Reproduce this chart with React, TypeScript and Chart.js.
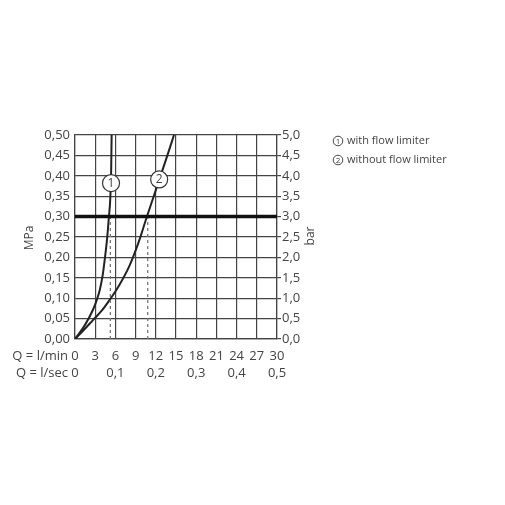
import React, { useEffect, useRef } from "react";
import { Chart, registerables } from "chart.js";
Chart.register(...registerables);

// Tick values / labels
const lpmTicks = [0, 3, 6, 9, 12, 15, 18, 21, 24, 27, 30];
const lpsTickPos = [0, 6, 12, 18, 24, 30];
const lpsLabels = ["0", "0,1", "0,2", "0,3", "0,4", "0,5"];
const mpaTicks = [0, 0.05, 0.1, 0.15, 0.2, 0.25, 0.3, 0.35, 0.4, 0.45, 0.5];
const mpaLabels = ["0,00", "0,05", "0,10", "0,15", "0,20", "0,25", "0,30", "0,35", "0,40", "0,45", "0,50"];
const barTicks = [0, 0.5, 1, 1.5, 2, 2.5, 3, 3.5, 4, 4.5, 5];
const barLabels = ["0,0", "0,5", "1,0", "1,5", "2,0", "2,5", "3,0", "3,5", "4,0", "4,5", "5,0"];

// Series: flow (l/min) vs pressure (MPa)
const withLimiterQ = [0, 1.47, 2.65, 3.24, 3.68, 4.12, 4.41, 4.75, 5.0, 5.25, 5.37, 5.44];
const withLimiterP = [0, 0.034, 0.071, 0.096, 0.12, 0.157, 0.194, 0.243, 0.292, 0.348, 0.414, 0.5];
const withoutLimiterQ = [0, 1.3, 2.7, 4.0, 5.2, 6.5, 8.1, 9.4, 10.6, 12.0, 13.5, 14.7];
const withoutLimiterP = [0, 0.022, 0.047, 0.07, 0.097, 0.13, 0.18, 0.235, 0.296, 0.365, 0.439, 0.5];

const refPressure = 0.3;
const dashQ = [5.25, 10.8];
const markerQ = [5.35, 12.5];
const markerP = [0.382, 0.391];
const markerText = ["1", "2"];
const legendNums = ["1", "2"];
const legendItems = ["with flow limiter", "without flow limiter"];
const yTitleLeft = "MPa";
const yTitleRight = "bar";
const xRowLabels = ["Q = l/min", "Q = l/sec"];

const FONT = "'Open Sans', 'DejaVu Sans', sans-serif";
const TEXT = "#444";
const LINE = "#222";
const GRID = "#444";

const extras = {
  id: "extras",
  afterDatasetsDraw(chart: any) {
    const ctx = chart.ctx;
    const xs = chart.scales.x;
    const ys = chart.scales.y;
    ctx.save();
    for (let i = 0; i < markerQ.length; i++) {
      const px = xs.getPixelForValue(markerQ[i]);
      const py = ys.getPixelForValue(markerP[i]);
      ctx.beginPath();
      ctx.arc(px, py, 8.5, 0, Math.PI * 2);
      ctx.fillStyle = "#fff";
      ctx.fill();
      ctx.lineWidth = 1.2;
      ctx.strokeStyle = "#333";
      ctx.stroke();
      ctx.fillStyle = TEXT;
      ctx.font = `12px ${FONT}`;
      ctx.textAlign = "center";
      ctx.textBaseline = "middle";
      ctx.fillText(markerText[i], px, py + 0.5);
    }
    ctx.restore();
  },
  afterDraw(chart: any) {
    const ctx = chart.ctx;
    const ca = chart.chartArea;
    const xs = chart.scales.x;
    ctx.save();
    ctx.fillStyle = TEXT;
    ctx.font = `12px ${FONT}`;
    ctx.textBaseline = "middle";
    const midY = (ca.top + ca.bottom) / 2;
    ctx.save();
    ctx.translate(ca.left - 45, midY + 1);
    ctx.rotate(-Math.PI / 2);
    ctx.textAlign = "center";
    ctx.fillText(yTitleLeft, 0, 0);
    ctx.restore();
    ctx.save();
    ctx.translate(ca.right + 34, midY - 1);
    ctx.rotate(-Math.PI / 2);
    ctx.textAlign = "center";
    ctx.fillText(yTitleRight, 0, 0);
    ctx.restore();
    ctx.font = `13px ${FONT}`;
    ctx.textAlign = "right";
    const x0 = xs.getPixelForValue(0) - 7;
    ctx.fillText(xRowLabels[0], x0, ca.bottom + 17);
    ctx.fillText(xRowLabels[1], x0, ca.bottom + 34);
    const lx = ca.right + 61;
    for (let i = 0; i < legendItems.length; i++) {
      const ly = ca.top + 6 + i * 19;
      ctx.beginPath();
      ctx.arc(lx, ly, 4.8, 0, Math.PI * 2);
      ctx.lineWidth = 1;
      ctx.strokeStyle = TEXT;
      ctx.stroke();
      ctx.font = `8px ${FONT}`;
      ctx.textAlign = "center";
      ctx.fillText(legendNums[i], lx, ly + 0.5);
      ctx.font = `11px ${FONT}`;
      ctx.textAlign = "left";
      ctx.fillText(legendItems[i], lx + 9, ly);
    }
    ctx.restore();
  },
};

export default function App() {
  const ref = useRef<HTMLCanvasElement>(null);
  useEffect(() => {
    if (!ref.current) return;
    const mk = (q: number[], p: number[]) => q.map((v, i) => ({ x: v, y: p[i] }));
    const chart = new Chart(ref.current, {
      type: "line",
      data: {
        datasets: [
          {
            data: [{ x: 0, y: refPressure }, { x: 30, y: refPressure }],
            borderColor: "#111",
            borderWidth: 3.5,
            pointRadius: 0,
          },
          ...dashQ.map((q) => ({
            data: [{ x: q, y: 0 }, { x: q, y: refPressure }],
            borderColor: "#777",
            borderWidth: 1.3,
            borderDash: [3, 3],
            pointRadius: 0,
          })),
          {
            data: mk(withLimiterQ, withLimiterP),
            borderColor: LINE,
            borderWidth: 2,
            pointRadius: 0,
            cubicInterpolationMode: "monotone",
          },
          {
            data: mk(withoutLimiterQ, withoutLimiterP),
            borderColor: LINE,
            borderWidth: 2,
            pointRadius: 0,
            cubicInterpolationMode: "monotone",
          },
        ] as any,
      },
      options: {
        animation: false,
        responsive: false,
        layout: { padding: { left: 0, right: 0, top: 135, bottom: 120 } },
        plugins: { legend: { display: false }, tooltip: { enabled: false } },
        font: { family: FONT },
        scales: {
          x: {
            type: "linear",
            position: "bottom",
            min: 0,
            max: 30,
            afterBuildTicks: (s: any) => {
              s.ticks = lpmTicks.map((v) => ({ value: v }));
            },
            afterFit: (s: any) => {
              s.height = 26;
            },
            ticks: {
              color: TEXT,
              font: { family: FONT, size: 13 },
              padding: 9,
              maxRotation: 0,
              callback: (_v: any, i: number) => String(lpmTicks[i]),
            },
            grid: { color: GRID, lineWidth: 1.2, drawTicks: false },
            border: { color: GRID, width: 1.2 },
          },
          x2: {
            type: "linear",
            position: "bottom",
            min: 0,
            max: 30,
            afterBuildTicks: (s: any) => {
              s.ticks = lpsTickPos.map((v) => ({ value: v }));
            },
            afterFit: (s: any) => {
              s.height = 20;
            },
            ticks: {
              color: TEXT,
              font: { family: FONT, size: 13 },
              padding: 0,
              maxRotation: 0,
              callback: (_v: any, i: number) => lpsLabels[i],
            },
            grid: { display: false, drawTicks: false },
            border: { display: false },
          },
          y: {
            type: "linear",
            position: "left",
            min: 0,
            max: 0.5,
            afterBuildTicks: (s: any) => {
              s.ticks = mpaTicks.map((v) => ({ value: v }));
            },
            afterFit: (s: any) => {
              s.width = 75;
            },
            ticks: {
              color: TEXT,
              font: { family: FONT, size: 13 },
              padding: 5,
              callback: (_v: any, i: number) => mpaLabels[i],
            },
            grid: { color: GRID, lineWidth: 1.2, drawTicks: false },
            border: { color: GRID, width: 1.2 },
          },
          y2: {
            type: "linear",
            position: "right",
            min: 0,
            max: 5,
            afterBuildTicks: (s: any) => {
              s.ticks = barTicks.map((v) => ({ value: v }));
            },
            afterFit: (s: any) => {
              s.width = 228;
            },
            ticks: {
              color: TEXT,
              font: { family: FONT, size: 13 },
              padding: 1,
              callback: (_v: any, i: number) => barLabels[i],
            },
            grid: { drawOnChartArea: false, drawTicks: true, tickLength: 4, color: GRID, lineWidth: 1.2 },
            border: { color: GRID, width: 1.2 },
          },
        },
      } as any,
      plugins: [extras],
    });
    return () => chart.destroy();
  }, []);
  return (
    <div style={{ position: "absolute", left: 0, top: 0, width: 505, height: 505, background: "#fff" }}>
      <canvas ref={ref} width={505} height={505} />
    </div>
  );
}
